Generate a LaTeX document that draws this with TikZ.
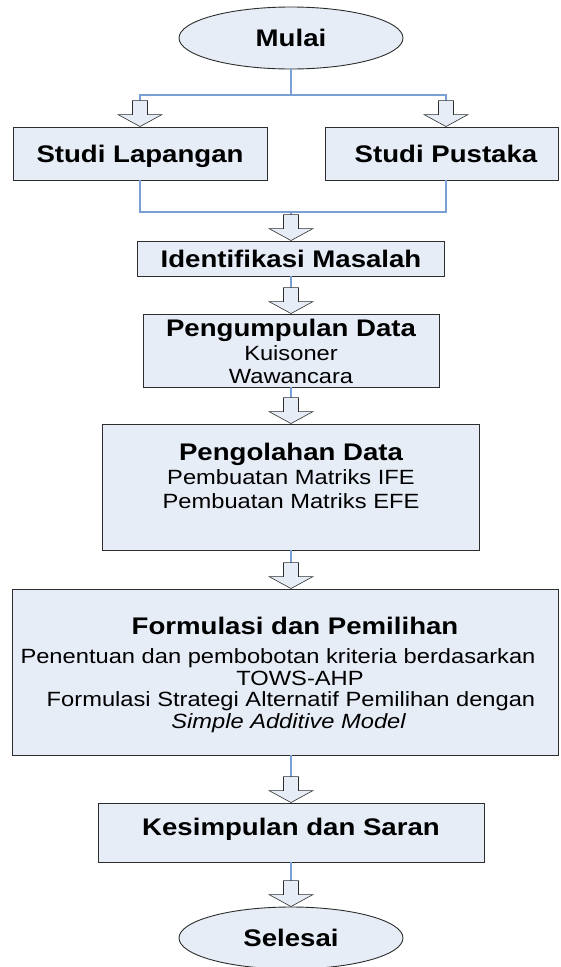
\documentclass[tikz,border=0pt]{standalone}
\usepackage{fontspec}
\setmainfont{Liberation Sans}[FakeStretch=1.15]
\usetikzlibrary{shapes.geometric}
\definecolor{boxfill}{RGB}{230,237,247}
\definecolor{boxdraw}{RGB}{45,45,45}
\definecolor{linkblue}{RGB}{120,160,212}
\begin{document}
\begin{tikzpicture}[x=1pt,y=-1pt,
  procbox/.style={draw=boxdraw, fill=boxfill, line width=0.9pt, rectangle, inner sep=0pt, anchor=center},
  termnode/.style={draw=boxdraw, fill=boxfill, line width=0.9pt, ellipse, minimum width=224pt, minimum height=62pt, inner sep=0pt},
  title/.style={anchor=base, inner sep=0pt, font=\fontsize{24}{28}\selectfont\bfseries},
  body/.style={anchor=base, inner sep=0pt, font=\fontsize{20.6}{24}\selectfont},
  conn/.style={draw=linkblue, line width=1.1pt},
  barrow/.pic={\draw[draw=boxdraw, fill=boxfill, line width=0.6pt, line join=miter]
     (0,0) -- (-22,-12) -- (-7.5,-12) -- (-7.5,-26) -- (7.5,-26) -- (7.5,-12) -- (22,-12) -- cycle;}
]
\useasboundingbox (0,0) rectangle (560,967);
\clip (0,0) rectangle (560,967);

% shapes
\node[termnode] (mulai) at (291,38) {};
\node[procbox, minimum width=254pt, minimum height=53pt] (lap) at (140,153.5) {};
\node[procbox, minimum width=233.5pt, minimum height=53pt] (pus) at (442,153.5) {};
\node[procbox, minimum width=307pt, minimum height=35pt] (ident) at (291,258.5) {};
\node[procbox, minimum width=296pt, minimum height=73pt] (kumpul) at (291,350.5) {};
\node[procbox, minimum width=377pt, minimum height=126pt] (olah) at (291,487) {};
\node[procbox, minimum width=546.5pt, minimum height=166pt] (formul) at (285.5,672) {};
\node[procbox, minimum width=386pt, minimum height=59pt] (kesim) at (291,832.5) {};
\node[termnode] (selesai) at (291,938) {};

% connector points
\coordinate (split) at (291,95);
\coordinate (join) at (291,212);
\coordinate (pusin) at ([xshift=4pt]pus.north);
\coordinate (pusout) at ([xshift=4pt]pus.south);
\coordinate (formin) at ([xshift=5.5pt]formul.north);
\coordinate (formout) at ([xshift=5.5pt]formul.south);

% connectors
\draw[conn] (mulai.south) -- (split);
\draw[conn] (split) -| ([yshift=26pt]lap.north);
\draw[conn] (split) -| ([yshift=26pt]pusin);
\draw[conn] (lap.south) |- (join);
\draw[conn] (pusout) |- (join);
\draw[conn] (join) -- ([yshift=26pt]ident.north);
\draw[conn] (ident.south) -- ([yshift=26pt]kumpul.north);
\draw[conn] (kumpul.south) -- ([yshift=26pt]olah.north);
\draw[conn] (olah.south) -- ([yshift=26pt]formin);
\draw[conn] (formout) -- ([yshift=26pt]kesim.north);
\draw[conn] (kesim.south) -- ([yshift=26pt]selesai.north);

% block arrows
\pic at (lap.north) {barrow};
\pic at (pusin) {barrow};
\pic at (ident.north) {barrow};
\pic at (kumpul.north) {barrow};
\pic at (olah.north) {barrow};
\pic at (formin) {barrow};
\pic at (kesim.north) {barrow};
\pic at (selesai.north) {barrow};

% texts
\node[title] (tmulai) at (291,46.5) {Mulai};
\node[title] (tlap) at (140,162) {Studi Lapangan};
\node[title] (tpus) at (446,162) {Studi Pustaka};
\node[title] (tident) at (291,267) {Identifikasi Masalah};
\node[title] (tkumpul) at (291,336) {Pengumpulan Data};
\node[body] (tk1) at (291,360) {Kuisoner};
\node[body] (tk2) at (291,383) {Wawancara};
\node[title] (tolah) at (291,460) {Pengolahan Data};
\node[body] (to1) at (291,484) {Pembuatan Matriks IFE};
\node[body] (to2) at (291,508) {Pembuatan Matriks EFE};
\node[title] (tformul) at (295,634) {Formulasi dan Pemilihan};
\node[body] (tf1) at (278,663.5) {Penentuan dan pembobotan kriteria berdasarkan};
\node[body] (tf2) at (300,685) {TOWS-AHP};
\node[body] (tf3) at (291,706.5) {Formulasi Strategi Alternatif Pemilihan dengan};
\node[body] (tf4) at (288.5,728) {\itshape Simple Additive Model};
\node[title] (tkesim) at (291,835) {Kesimpulan dan Saran};
\node[title] (tselesai) at (291,946) {Selesai};
\end{tikzpicture}
\end{document}
